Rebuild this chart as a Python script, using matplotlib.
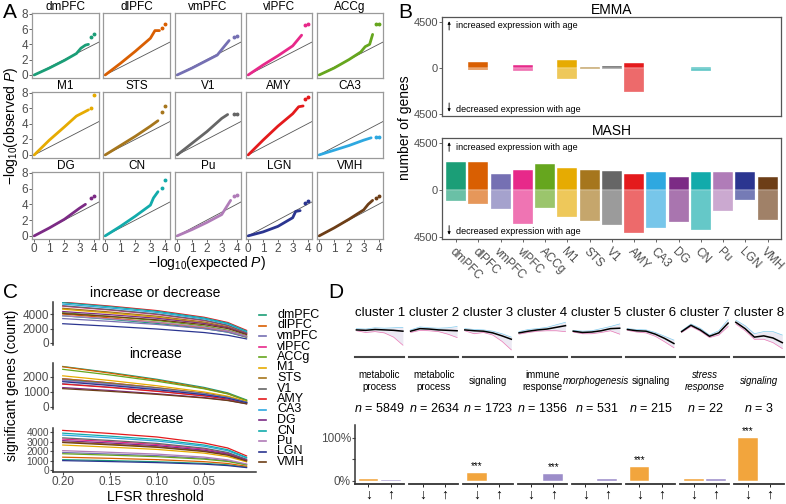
import numpy as np
import matplotlib.pyplot as plt
from matplotlib.lines import Line2D

plt.rcParams['font.family'] = ['Liberation Sans', 'DejaVu Sans']
plt.rcParams['mathtext.fontset'] = 'custom'
plt.rcParams['mathtext.rm'] = 'Liberation Sans'
plt.rcParams['mathtext.it'] = 'Liberation Sans:italic'

W, H = 786, 504

# ---- shared: brain regions and their colours
regions = ["dmPFC", "dlPFC", "vmPFC", "vlPFC", "ACCg", "M1", "STS", "V1",
           "AMY", "CA3", "DG", "CN", "Pu", "LGN", "VMH"]
colors = ["#1b9e77", "#d95f02", "#7570b3", "#e7298a", "#66a61e", "#e6ab02",
          "#a6761d", "#666666", "#e41a1c", "#2ea8e0", "#7c2b85", "#12abab",
          "#b07cb8", "#2b3590", "#6d3e17"]

# ---- A: QQ plots (expected vs observed -log10 P)
qq_exp = [
    [0, 1, 2, 2.8, 3.1, 3.4, 3.6, 3.8, 4.0],
    [0, 1, 2, 3.0, 3.3, 3.6, 3.8, 4.0],
    [0, 1, 2, 2.7, 3.2, 3.5, 3.8, 4.0],
    [0, 1, 2, 3.0, 3.3, 3.6, 3.8, 4.0],
    [0, 1, 2, 2.8, 3.1, 3.4, 3.6, 3.8, 4.0],
    [0, 1, 2, 2.8, 3.3, 3.6, 3.8, 4.0],
    [0, 1, 2, 3.0, 3.5, 3.8, 4.0],
    [0, 1, 2, 3.0, 3.4, 3.8, 4.0],
    [0, 1, 2, 3.0, 3.4, 3.7, 3.8, 4.0],
    [0, 1, 2, 3.0, 3.5, 3.8, 4.0],
    [0, 1, 2, 3.0, 3.4, 3.8, 4.0],
    [0, 1, 2, 2.5, 3.0, 3.2, 3.5, 3.8, 4.0],
    [0, 1, 2, 3.0, 3.3, 3.6, 3.8, 4.0],
    [0, 1, 2, 3.0, 3.2, 3.5, 3.8, 4.0],
    [0, 1, 2, 3.0, 3.3, 3.6, 3.8, 4.0],
]
qq_obs = [
    [0, 0.9, 1.9, 2.8, 3.5, 3.9, 4.0, 5.0, 5.4],
    [0, 1.5, 3.1, 4.8, 5.8, 5.8, 6.2, 6.6],
    [0, 0.9, 1.9, 2.6, 3.8, 4.5, 5.0, 5.1],
    [0, 1.3, 2.5, 3.8, 4.5, 5.2, 6.5, 6.6],
    [0, 0.9, 2.0, 3.0, 3.7, 4.0, 5.3, 6.6, 6.7],
    [0, 1.9, 3.6, 5.0, 5.5, 5.8, 6.0, 7.7],
    [0, 1.2, 2.4, 3.7, 4.4, 5.5, 6.3],
    [0, 1.5, 3.0, 4.7, 5.2, 5.3, 5.3],
    [0, 1.9, 3.7, 5.3, 6.2, 6.3, 7.2, 7.5],
    [0, 0.6, 1.2, 1.9, 2.2, 2.3, 2.35],
    [0, 1.0, 2.1, 3.5, 4.0, 4.8, 5.1],
    [0, 1.2, 2.5, 3.2, 3.9, 4.8, 5.6, 6.1, 7.1],
    [0, 0.8, 1.7, 2.7, 3.6, 4.5, 5.0, 5.2],
    [0, 0.5, 1.2, 2.3, 3.1, 3.2, 4.2, 4.4],
    [0, 1.0, 2.1, 3.3, 4.0, 4.5, 4.8, 5.1],
]

# ---- B: number of age-associated genes
emma_up = [15, 600, 15, 260, 15, 740, 60, 220, 450, 15, 15, 100, 15, 15, 15]
emma_down = [15, 220, 15, 350, 15, 1090, 100, 130, 2340, 15, 30, 290, 15, 15, 15]
mash_up = [2670, 2670, 1530, 1860, 2480, 2050, 1860, 1790, 1500, 1730, 1270, 1730, 1730, 1660, 1200]
mash_down = [1110, 1370, 1860, 3260, 1730, 2640, 2970, 3390, 4170, 3680, 3100, 3880, 2050, 1010, 2900]

# ---- C: significant genes vs LFSR threshold
lfsr = [0.20, 0.15, 0.10, 0.05, 0.025, 0.005]
inc_counts = [
    [2670, 2270, 1820, 1280, 920, 450],
    [2650, 2230, 1770, 1220, 870, 400],
    [1530, 1300, 1040, 730, 520, 250],
    [1860, 1580, 1260, 890, 630, 300],
    [2480, 2110, 1690, 1190, 850, 420],
    [2050, 1740, 1390, 980, 700, 350],
    [1860, 1580, 1260, 890, 630, 300],
    [1790, 1520, 1220, 860, 610, 290],
    [1500, 1280, 1020, 720, 510, 240],
    [1730, 1470, 1180, 830, 590, 280],
    [1270, 1080, 860, 610, 430, 200],
    [1730, 1470, 1180, 830, 590, 280],
    [1730, 1470, 1180, 830, 590, 280],
    [1660, 1410, 1130, 800, 570, 270],
    [1200, 1020, 820, 580, 410, 190],
]
dec_counts = [
    [1110, 1010, 890, 720, 570, 330],
    [1370, 1250, 1110, 900, 710, 420],
    [1860, 1700, 1530, 1250, 990, 600],
    [3260, 3000, 2700, 2220, 1780, 1100],
    [1730, 1580, 1420, 1160, 920, 560],
    [2640, 2420, 2180, 1790, 1430, 880],
    [2970, 2730, 2460, 2020, 1620, 1000],
    [3390, 3120, 2810, 2310, 1860, 1150],
    [4170, 3850, 3480, 2850, 2330, 1500],
    [3680, 3390, 3060, 2510, 2040, 1280],
    [3100, 2850, 2570, 2100, 1700, 1050],
    [3880, 3570, 3220, 2640, 2150, 1350],
    [2050, 1880, 1690, 1380, 1090, 660],
    [1010, 910, 800, 640, 490, 280],
    [2900, 2660, 2400, 1960, 1580, 970],
]

# ---- D: clusters of age trajectories
cluster_names = ["cluster %d" % k for k in range(1, 9)]
cluster_terms = ["metabolic\nprocess", "metabolic\nprocess", "signaling", "immune\nresponse",
                 "morphogenesis", "signaling", "stress\nresponse", "signaling"]
term_italic = [False, False, False, False, True, False, True, True]
cluster_n = [5849, 2634, 1723, 1356, 531, 215, 22, 3]
pct_down = [4, 1, 18, 0, 0.5, 33, 5, 100]
pct_up = [2, 1, 0.5, 17, 4, 0, 5, 0]
sig_down = [False, False, True, False, False, True, False, True]
sig_up = [False, False, False, True, False, False, False, False]
traj_age = [0, 0.2, 0.4, 0.6, 0.8, 1.0]
traj_mean = [
    [1.2, 1.1, 1.3, 1.2, 1.1, 0.9],
    [0.9, 1.5, 1.4, 1.2, 1.1, 1.0],
    [1.2, 1.0, 0.9, 0.5, -0.2, -1.0],
    [0.5, 0.9, 1.2, 1.4, 1.8, 2.2],
    [0.9, 0.6, 0.7, 1.0, 1.5, 1.6],
    [1.3, 1.0, 0.9, 0.2, -0.8, -2.0],
    [0.8, 2.3, 1.2, -0.3, 0.5, 2.8],
    [3.0, 1.5, -0.5, -0.2, -0.7, -1.8],
]
traj_low = [
    [1.0, 0.6, 0.8, 0.5, -0.5, -2.4],
    [0.6, 1.1, 1.0, 0.8, 0.2, -0.6],
    [1.0, 0.3, 0.6, 0.0, -1.5, -3.5],
    [0.2, 0.6, 0.9, 1.0, 1.0, 0.8],
    [0.7, 0.3, 0.3, 0.6, 1.0, 0.2],
    [1.1, 0.7, 0.5, -0.3, -1.6, -3.0],
    [0.6, 2.0, 0.9, -0.6, 0.0, 2.0],
    [2.6, 1.0, -1.0, -1.0, -1.8, -3.2],
]
traj_high = [
    [1.5, 1.4, 1.7, 1.6, 1.7, 1.8],
    [1.2, 1.9, 1.7, 1.6, 1.7, 2.0],
    [1.5, 1.3, 1.2, 0.9, 0.3, -0.5],
    [0.8, 1.3, 1.5, 1.8, 2.4, 3.0],
    [1.1, 0.9, 1.0, 1.5, 2.0, 2.6],
    [1.5, 1.3, 1.2, 0.6, -0.3, -1.2],
    [1.0, 2.6, 1.6, 0.0, 1.0, 3.6],
    [3.5, 2.2, 0.3, 0.8, 0.8, 0.0],
]

fig = plt.figure(figsize=(W / 100, H / 100), dpi=100)


def px_axes(x0, y0, x1, y1):
    return fig.add_axes([x0 / W, 1 - y1 / H, (x1 - x0) / W, (y1 - y0) / H])


def ftext(x, y, s, **kw):
    return fig.text(x / W, 1 - y / H, s, **kw)


TICK = "#4d4d4d"

# ================= A
col_x = [(32, 99), (103, 170), (175, 241), (246, 312), (317, 383)]
row_y = [(13, 78), (92, 158), (172, 239)]
for i, reg in enumerate(regions):
    r, c = divmod(i, 5)
    ax = px_axes(col_x[c][0], row_y[r][0], col_x[c][1], row_y[r][1])
    ax.plot([-1, 9], [-1, 9], color="#555555", lw=0.6, zorder=1)
    x, y = qq_exp[i], qq_obs[i]
    ax.plot(x[:-2], y[:-2], color=colors[i], lw=2.0, solid_capstyle="round", zorder=2)
    ax.plot(x[-2:], y[-2:], "o", ms=1.8, color=colors[i], zorder=2)
    ax.set_xlim(-0.15, 4.3)
    ax.set_ylim(-0.4, 8.1)
    ax.set_xticks([0, 1, 2, 3, 4])
    ax.set_yticks([0, 2, 4, 6, 8])
    ax.tick_params(labelsize=8.5, colors=TICK, length=2, width=0.6, pad=1)
    if c > 0:
        ax.tick_params(axis="y", left=False, labelleft=False)
    if r < 2:
        ax.tick_params(axis="x", bottom=False, labelbottom=False)
    for s in ax.spines.values():
        s.set_color("#9a9a9a")
        s.set_linewidth(0.9)
    ax.set_title(reg, fontsize=8.5, pad=2)

ftext(207, 263, r"$-\mathrm{log}_{10}(\mathrm{expected}\ P)$", ha="center", va="center", fontsize=10)
ftext(11, 126, r"$-\mathrm{log}_{10}(\mathrm{observed}\ P)$", ha="center", va="center",
      fontsize=10, rotation=90)

# ================= B
xb = np.arange(len(regions))
for (y0, y1, title, up, down) in [(17, 116, "EMMA", emma_up, emma_down),
                                  (138, 239, "MASH", mash_up, mash_down)]:
    ax = px_axes(442, y0, 781, y1)
    ax.bar(xb, up, width=0.9, color=colors, edgecolor="white", lw=0.3)
    ax.bar(xb, -np.array(down), width=0.9, color=colors, alpha=0.65, edgecolor="white", lw=0.3)
    ax.set_xlim(-0.64, 14.6)
    ax.set_ylim(-4700, 4950)
    ax.set_yticks([-4500, 0, 4500])
    ax.set_yticklabels(["4500", "0", "4500"])
    ax.tick_params(labelsize=8, colors=TICK, length=2, width=0.6, pad=1)
    for s in ax.spines.values():
        s.set_color("#555555")
        s.set_linewidth(0.9)
    ax.set_title(title, fontsize=10, pad=2)
    ax.annotate("", xy=(0.021, 0.985), xytext=(0.021, 0.84), xycoords="axes fraction",
                arrowprops=dict(arrowstyle="-|>", lw=0.6, color="black", mutation_scale=4))
    ax.text(0.042, 0.91, "increased expression with age", transform=ax.transAxes,
            fontsize=6.5, va="center")
    ax.annotate("", xy=(0.021, 0.015), xytext=(0.021, 0.16), xycoords="axes fraction",
                arrowprops=dict(arrowstyle="-|>", lw=0.6, color="black", mutation_scale=4))
    ax.text(0.042, 0.07, "decreased expression with age", transform=ax.transAxes,
            fontsize=6.5, va="center")
    if title == "MASH":
        ax.set_xticks(xb)
        ax.set_xticklabels(regions, rotation=-45, ha="left", va="top",
                           rotation_mode="anchor", fontsize=8.5, color=TICK)
        ax.tick_params(axis="x", length=2, pad=3)
    else:
        ax.set_xticks([])

ftext(405, 128, "number of genes", rotation=90, ha="center", va="center", fontsize=10)

# ================= C
c_rows = [((302, 345), "increase or decrease", (-300, 5700), [0, 2000, 4000]),
          ((363, 409), "increase", (-150, 2900), [0, 1000, 2000]),
          ((428, 472), "decrease", (-180, 4420), [0, 1000, 2000, 3000, 4000])]
inc = np.array(inc_counts)
dec = np.array(dec_counts)
c_vals = [inc + dec, inc, dec]
for k, ((y0, y1), title, ylim, yt) in enumerate(c_rows):
    ax = px_axes(53.3, y0, 256, y1)
    for i in range(len(regions)):
        ax.plot(lfsr, c_vals[k][i], color=colors[i], lw=0.9)
    ax.set_xlim(0.21, -0.005)
    ax.set_ylim(*ylim)
    ax.set_yticks(yt)
    ax.tick_params(labelsize=8.5, colors=TICK, length=2, width=0.8, pad=1)
    if k == 2:
        ax.tick_params(axis="y", labelsize=7.3)
    ax.spines["top"].set_visible(False)
    ax.spines["right"].set_visible(False)
    ax.spines["left"].set_color("#333333")
    ax.spines["left"].set_linewidth(1.1)
    ax.spines["bottom"].set_color("#333333")
    ax.spines["bottom"].set_linewidth(1.1)
    ftext(155, y0 - 9, title, ha="center", va="center", fontsize=10)
    if k < 2:
        ax.spines["bottom"].set_visible(False)
        ax.set_xticks([])
    else:
        ax.set_xticks([0.20, 0.15, 0.10, 0.05])
        ax.set_xticklabels(["0.20", "0.15", "0.10", "0.05"])
ftext(155, 497, "LFSR threshold", ha="center", va="center", fontsize=10)
ftext(12, 385, "significant genes (count)", rotation=90, ha="center", va="center", fontsize=10)

for i, reg in enumerate(regions):
    yy = 1 - (315 + 10.5 * i) / H
    fig.add_artist(Line2D([259 / W, 266 / W], [yy, yy], color=colors[i], lw=1.2))
    fig.text(277 / W, yy, reg, va="center", fontsize=9)

# ================= D
for i in range(8):
    left = 355 + 54.2 * i
    right = left + 49.3
    cx = (left + right) / 2
    ftext(cx, 313, cluster_names[i], ha="center", va="center", fontsize=9.5)

    ax = px_axes(left, 317, right, 357.3)
    ax.fill_between(traj_age, traj_low[i], traj_high[i], color="#c9c2dd", alpha=0.35, lw=0)
    ax.plot(traj_age, traj_low[i], color="#e7298a", lw=0.5, alpha=0.6)
    ax.plot(traj_age, traj_high[i], color="#2ea8e0", lw=0.5, alpha=0.6)
    ax.plot(traj_age, traj_mean[i], color="black", lw=1.1)
    ax.set_xlim(-0.03, 1.03)
    ax.set_ylim(-5.25, 4.24)
    ax.set_xticks([])
    ax.set_yticks([])
    for s in ["top", "right", "left"]:
        ax.spines[s].set_visible(False)
    ax.spines["bottom"].set_color("#444444")
    ax.spines["bottom"].set_linewidth(1.5)

    ftext(cx, 381, cluster_terms[i], ha="center", va="center", fontsize=7,
          style="italic" if term_italic[i] else "normal", linespacing=1.3)
    ftext(cx, 409, r"$n$ = %d" % cluster_n[i], ha="center", va="center", fontsize=9)

    bax = px_axes(left, 425, right, 484)
    vals = [pct_down[i], pct_up[i]]
    bax.bar([0, 1], vals, width=0.9, color=["#f2a53d", "#9c8dc9"], edgecolor="white", lw=0.3)
    for j, sig in enumerate([sig_down[i], sig_up[i]]):
        if sig:
            bax.text(j, vals[j] + 4, "***", ha="center", va="bottom", fontsize=7)
    bax.set_xlim(-0.61, 1.62)
    bax.set_ylim(-7, 130)
    bax.set_xticks([0, 1])
    bax.set_xticklabels(["\u2193", "\u2191"], fontsize=10)
    bax.tick_params(axis="x", length=2, width=0.6, pad=1)
    for s in ["top", "right"]:
        bax.spines[s].set_visible(False)
    bax.spines["bottom"].set_color("#333333")
    bax.spines["bottom"].set_linewidth(1.3)
    if i == 0:
        bax.set_yticks([0, 50, 100])
        bax.set_yticklabels(["0%", "", "100%"])
        bax.tick_params(axis="y", labelsize=8.5, colors=TICK, length=2, width=0.8, pad=1)
        bax.spines["left"].set_color("#333333")
        bax.spines["left"].set_linewidth(1.1)
    else:
        bax.spines["left"].set_visible(False)
        bax.set_yticks([])

# panel letters
ftext(3, 12, "A", fontsize=15, va="center")
ftext(398, 12, "B", fontsize=15, va="center")
ftext(3, 293, "C", fontsize=15, va="center")
ftext(328, 293, "D", fontsize=15, va="center")

fig.savefig("out.png", dpi=100)
